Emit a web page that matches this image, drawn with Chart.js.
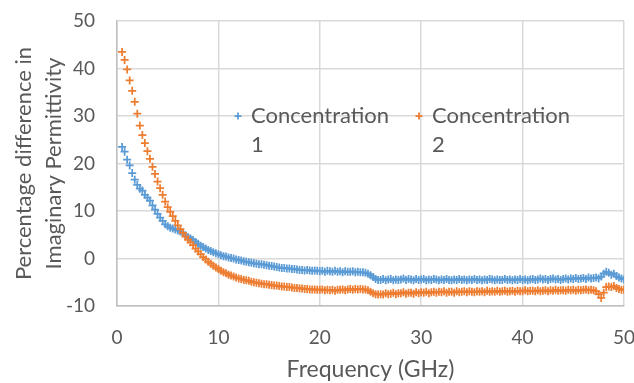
<!DOCTYPE html>
<html>
<head>
<meta charset="utf-8">
<script src="https://cdn.jsdelivr.net/npm/chart.js@4.4.0/dist/chart.umd.min.js"></script>
<style>
  body { margin: 0; background: #fff; }
</style>
</head>
<body>
<canvas id="grafica" width="634" height="383"></canvas>
<script>
// Frecuencias (GHz), una fila por GHz
const frecuencias = [
  0.5, 0.75,
  1, 1.25, 1.5, 1.75,  2, 2.25, 2.5, 2.75,  3, 3.25, 3.5, 3.75,  4, 4.25, 4.5, 4.75,
  5, 5.25, 5.5, 5.75,  6, 6.25, 6.5, 6.75,  7, 7.25, 7.5, 7.75,  8, 8.25, 8.5, 8.75,
  9, 9.25, 9.5, 9.75,  10, 10.25, 10.5, 10.75,  11, 11.25, 11.5, 11.75,  12, 12.25, 12.5, 12.75,
  13, 13.25, 13.5, 13.75,  14, 14.25, 14.5, 14.75,  15, 15.25, 15.5, 15.75,  16, 16.25, 16.5, 16.75,
  17, 17.25, 17.5, 17.75,  18, 18.25, 18.5, 18.75,  19, 19.25, 19.5, 19.75,  20, 20.25, 20.5, 20.75,
  21, 21.25, 21.5, 21.75,  22, 22.25, 22.5, 22.75,  23, 23.25, 23.5, 23.75,  24, 24.25, 24.5, 24.75,
  25, 25.25, 25.5, 25.75,  26, 26.25, 26.5, 26.75,  27, 27.25, 27.5, 27.75,  28, 28.25, 28.5, 28.75,
  29, 29.25, 29.5, 29.75,  30, 30.25, 30.5, 30.75,  31, 31.25, 31.5, 31.75,  32, 32.25, 32.5, 32.75,
  33, 33.25, 33.5, 33.75,  34, 34.25, 34.5, 34.75,  35, 35.25, 35.5, 35.75,  36, 36.25, 36.5, 36.75,
  37, 37.25, 37.5, 37.75,  38, 38.25, 38.5, 38.75,  39, 39.25, 39.5, 39.75,  40, 40.25, 40.5, 40.75,
  41, 41.25, 41.5, 41.75,  42, 42.25, 42.5, 42.75,  43, 43.25, 43.5, 43.75,  44, 44.25, 44.5, 44.75,
  45, 45.25, 45.5, 45.75,  46, 46.25, 46.5, 46.75,  47, 47.25, 47.5, 47.75,  48, 48.25, 48.5, 48.75,
  49, 49.25, 49.5, 49.75,
  50
];

// Concentracion 1 (azul)
const concentracion1 = [
  23.5, 22.5,
  20.8, 19.6, 18.0, 16.6,  15.5, 14.7, 14.3, 13.4,  12.8, 12.2, 11.2, 10.3,  9.4, 8.6, 7.9, 7.2,
  6.8, 6.5, 6.3, 6.1,  5.9, 5.7, 5.3, 4.9,  4.5, 4.2, 3.9, 3.5,  3.1, 2.7, 2.4, 2.1,
  1.8, 1.6, 1.3, 1.1,  0.9, 0.7, 0.5, 0.4,  0.2, 0.1, 0.0, -0.2,  -0.3, -0.4, -0.6, -0.7,
  -0.8, -0.9, -1.0, -1.1,  -1.2, -1.2, -1.3, -1.4,  -1.5, -1.6, -1.7, -1.8,  -1.9, -2.0, -2.0, -2.1,
  -2.1, -2.2, -2.2, -2.3,  -2.4, -2.4, -2.5, -2.4,  -2.5, -2.6, -2.5, -2.6,  -2.7, -2.6, -2.8, -2.6,
  -2.7, -2.8, -2.6, -2.8,  -2.7, -2.9, -2.7, -2.8,  -2.8, -2.7, -2.9, -2.8,  -2.9, -2.9, -3.0, -3.2,
  -3.5, -3.9, -4.3, -4.5,  -4.5, -4.3, -4.6, -4.4,  -4.3, -4.6, -4.4, -4.5,  -4.4, -4.2, -4.5, -4.3,
  -4.4, -4.6, -4.3, -4.5,  -4.4, -4.3, -4.6, -4.4,  -4.5, -4.3, -4.4, -4.6,  -4.4, -4.5, -4.3, -4.5,
  -4.6, -4.4, -4.5, -4.3,  -4.5, -4.4, -4.6, -4.4,  -4.5, -4.3, -4.5, -4.4,  -4.6, -4.4, -4.5, -4.3,
  -4.4, -4.6, -4.4, -4.5,  -4.5, -4.3, -4.5, -4.4,  -4.6, -4.4, -4.5, -4.3,  -4.5, -4.4, -4.6, -4.4,
  -4.3, -4.5, -4.4, -4.2,  -4.4, -4.3, -4.5, -4.3,  -4.2, -4.4, -4.3, -4.5,  -4.3, -4.2, -4.4, -4.2,
  -4.3, -4.1, -4.3, -4.2,  -4.1, -4.3, -4.0, -4.2,  -4.1, -4.0, -4.2, -3.8,  -3.2, -2.8, -3.0, -3.4,
  -3.2, -3.7, -4.0, -4.2,
  -4.4
];

// Concentracion 2 (naranja)
const concentracion2 = [
  43.5, 41.8,
  39.8, 37.5, 35.3, 33.0,  30.5, 28.0, 26.0, 24.3,  22.6, 21.0, 19.3, 17.8,  16.2, 14.8, 13.4, 12.0,
  10.8, 9.8, 8.9, 7.9,  7.0, 6.2, 5.4, 4.6,  4.0, 3.4, 2.8, 2.1,  1.5, 0.9, 0.3, -0.2,
  -0.7, -1.1, -1.5, -1.9,  -2.2, -2.6, -2.9, -3.1,  -3.4, -3.6, -3.8, -4.0,  -4.2, -4.3, -4.5, -4.6,
  -4.7, -4.9, -5.0, -5.1,  -5.2, -5.3, -5.4, -5.4,  -5.5, -5.6, -5.7, -5.7,  -5.8, -5.9, -5.9, -6.0,
  -6.0, -6.1, -6.2, -6.2,  -6.3, -6.3, -6.4, -6.4,  -6.5, -6.5, -6.5, -6.6,  -6.6, -6.5, -6.7, -6.6,
  -6.7, -6.6, -6.8, -6.6,  -6.6, -6.5, -6.7, -6.5,  -6.4, -6.6, -6.4, -6.5,  -6.4, -6.5, -6.5, -6.7,
  -7.0, -7.3, -7.5, -7.6,  -7.5, -7.6, -7.3, -7.5,  -7.4, -7.2, -7.5, -7.3,  -7.3, -7.1, -7.4, -7.2,
  -7.2, -7.4, -7.1, -7.3,  -7.1, -7.2, -7.0, -7.3,  -7.1, -7.0, -7.2, -7.0,  -7.1, -6.9, -7.2, -7.0,
  -7.0, -7.2, -6.9, -7.1,  -7.0, -6.9, -7.1, -6.9,  -7.0, -7.1, -6.9, -7.0,  -6.9, -7.1, -6.8, -7.0,
  -6.9, -7.0, -6.8, -7.0,  -6.9, -6.8, -7.0, -6.9,  -6.8, -7.0, -6.8, -6.9,  -6.9, -6.7, -6.9, -6.8,
  -6.8, -6.9, -6.7, -6.9,  -6.8, -6.7, -6.9, -6.7,  -6.8, -6.6, -6.8, -6.7,  -6.7, -6.8, -6.6, -6.7,
  -6.6, -6.8, -6.6, -6.7,  -6.6, -6.5, -6.7, -6.6,  -6.7, -6.9, -7.5, -8.3,  -7.2, -6.0, -5.9, -6.0,
  -5.8, -6.2, -6.4, -6.6,
  -6.6
];

const nombresSeries = ['Concentration 1', 'Concentration 2'];
const ticksX = [0, 10, 20, 30, 40, 50];
const ticksY = [-10, 0, 10, 20, 30, 40, 50];

const colorTexto = '#595959';
const fuente = 'Lato, Carlito, Calibri, sans-serif';

function puntos(valores) {
  return frecuencias.map((f, i) => ({ x: f, y: valores[i] }));
}

// Quita el relleno extra que Chart.js deja para las etiquetas de los extremos
function sinRelleno(s) {
  s.paddingLeft = 0; s.paddingRight = 0; s.paddingTop = 0; s.paddingBottom = 0;
}

// Leyenda dentro del area, con el texto partido en dos lineas como en Excel
const leyendaInterna = {
  id: 'leyendaInterna',
  afterDraw(chart) {
    const ctx = chart.ctx;
    const posiciones = [238, 419];
    const yLinea = 116;
    ctx.save();
    chart.data.datasets.forEach((ds, i) => {
      const x = posiciones[i];
      // marcador '+'
      ctx.strokeStyle = ds.borderColor;
      ctx.lineWidth = 1.75;
      ctx.beginPath();
      ctx.moveTo(x - 3.5, yLinea); ctx.lineTo(x + 3.5, yLinea);
      ctx.moveTo(x, yLinea - 3.5); ctx.lineTo(x, yLinea + 3.5);
      ctx.stroke();
      // texto
      const corte = ds.label.lastIndexOf(' ');
      const lineas = [ds.label.slice(0, corte), ds.label.slice(corte + 1)];
      ctx.fillStyle = colorTexto;
      ctx.font = '22px ' + fuente;
      ctx.textBaseline = 'middle';
      ctx.textAlign = 'left';
      lineas.forEach((t, j) => ctx.fillText(t, x + 13, yLinea + j * 29));
    });
    ctx.restore();
  }
};

new Chart(document.getElementById('grafica'), {
  type: 'scatter',
  data: {
    datasets: [
      {
        label: nombresSeries[0],
        data: puntos(concentracion1),
        borderColor: '#5B9BD5',
        backgroundColor: '#5B9BD5',
        pointStyle: 'cross',
        pointRadius: 4,
        pointBorderWidth: 1.75,
        order: 1
      },
      {
        label: nombresSeries[1],
        data: puntos(concentracion2),
        borderColor: '#ED7D31',
        backgroundColor: '#ED7D31',
        pointStyle: 'cross',
        pointRadius: 4,
        pointBorderWidth: 1.75,
        order: 0
      }
    ]
  },
  options: {
    responsive: false,
    animation: false,
    events: [],
    layout: { padding: { top: 21, right: 10, left: 0, bottom: 0 } },
    plugins: {
      legend: { display: false },
      tooltip: { enabled: false }
    },
    scales: {
      x: {
        type: 'linear',
        min: ticksX[0],
        max: ticksX[ticksX.length - 1],
        afterBuildTicks: (s) => { s.ticks = ticksX.map(v => ({ value: v })); },
        afterFit: (s) => { s.height = 77; sinRelleno(s); },
        grid: { color: '#D9D9D9', lineWidth: 1.5, drawTicks: false },
        border: { color: '#BFBFBF', width: 1.5 },
        ticks: { color: colorTexto, font: { family: fuente, size: 19 }, padding: 20 },
        title: {
          display: true,
          text: 'Frequency (GHz)',
          color: colorTexto,
          font: { family: fuente, size: 23 },
          padding: { top: 0, bottom: 0 }
        }
      },
      y: {
        type: 'linear',
        min: ticksY[0],
        max: ticksY[ticksY.length - 1],
        afterBuildTicks: (s) => { s.ticks = ticksY.map(v => ({ value: v })); },
        afterFit: (s) => { s.width = 117; sinRelleno(s); },
        grid: { color: '#D9D9D9', lineWidth: 1.5, drawTicks: false },
        border: { color: '#BFBFBF', width: 1.5 },
        ticks: { color: colorTexto, font: { family: fuente, size: 19 }, padding: 22 },
        title: {
          display: true,
          text: ['Percentage difference in', 'Imaginary Permittivity'],
          color: colorTexto,
          font: { family: fuente, size: 22, lineHeight: 1.36 },
          padding: { top: 9, bottom: 0 }
        }
      }
    }
  },
  plugins: [leyendaInterna]
});
</script>
</body>
</html>
